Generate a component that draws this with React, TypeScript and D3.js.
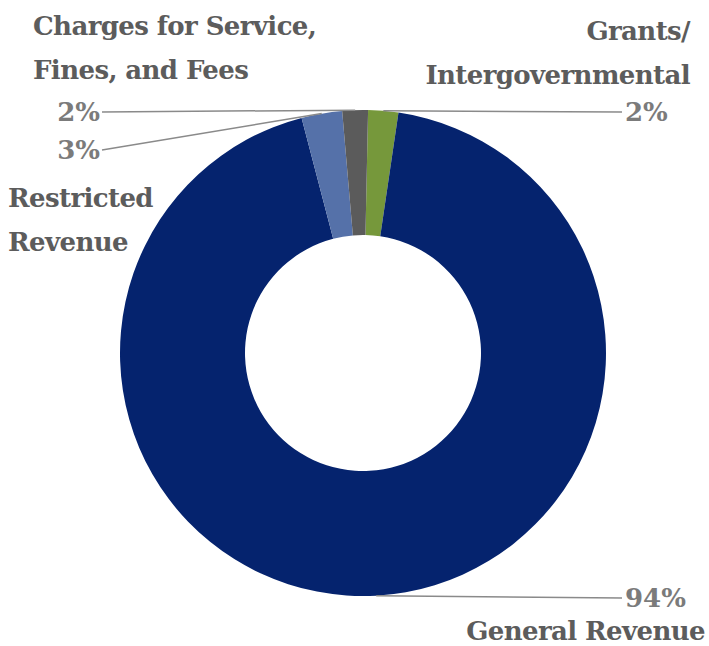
import React from "react";
import * as d3 from "d3";

const categories = ["Grants/ Intergovernmental", "General Revenue", "Restricted Revenue", "Charges for Service, Fines, and Fees"];
const values = [2.0, 93.6, 2.7, 1.7];
const colors = ["#76983b", "#05236e", "#5571a9", "#5b5b5b"];

const titleLines = [
  ["Grants/", "Intergovernmental"],
  ["General Revenue"],
  ["Restricted", "Revenue"],
  ["Charges for Service,", "Fines, and Fees"],
];

const W = 709, H = 646;
const cx = 363, cy = 353, R = 243, r0 = 118;
const startDeg = 1.2;

const titleColor = "#5c5c5c";
const pctColor = "#7b7b7b";
const font = "DejaVu Serif";

export default function App() {
  const pie = d3.pie<number>().sort(null).value((d) => d)
    .startAngle((startDeg * Math.PI) / 180)
    .endAngle((startDeg * Math.PI) / 180 + 2 * Math.PI);
  const arcs = pie(values);
  const arc = d3.arc<d3.PieArcDatum<number>>().innerRadius(r0).outerRadius(R);
  const total = d3.sum(values);

  const pctPos = [
    { x: 625, y: 112, anchor: "start" },
    { x: 625, y: 598, anchor: "start" },
    { x: 100, y: 150, anchor: "end" },
    { x: 100, y: 112, anchor: "end" },
  ];
  const titlePos = [
    { x: 690, y: 40, anchor: "end" },
    { x: 705, y: 640, anchor: "end" },
    { x: 8, y: 207, anchor: "start" },
    { x: 33, y: 35, anchor: "start" },
  ];

  return (
    <svg width={W} height={H} style={{ position: "absolute", left: 0, top: 0, background: "#fff" }}>
      <g transform={`translate(${cx},${cy})`}>
        {arcs.map((a, i) => (
          <path key={i} d={arc(a) || ""} fill={colors[i]} />
        ))}
      </g>
      {arcs.map((a, i) => {
        const mid = (a.startAngle + a.endAngle) / 2;
        const px = cx + R * Math.sin(mid);
        const py = cy - R * Math.cos(mid);
        const p = pctPos[i];
        const lx = p.anchor === "start" ? p.x - 3 : p.x + 2;
        return (
          <g key={i}>
            <line x1={px} y1={py} x2={lx} y2={p.y} stroke="#8a8a8a" strokeWidth={1.5} />
            <text x={p.x} y={p.y} dy="0.35em" textAnchor={p.anchor as any} fill={pctColor}
              style={{ fontFamily: font, fontWeight: 700, fontSize: 26 }}>
              {Math.round((values[i] / total) * 100)}%
            </text>
          </g>
        );
      })}
      {titleLines.map((lines, i) => (
        <text key={i} x={titlePos[i].x} y={titlePos[i].y} textAnchor={titlePos[i].anchor as any}
          fill={titleColor} style={{ fontFamily: font, fontWeight: 700, fontSize: 26, letterSpacing: -0.6 }}>
          {lines.map((l, j) => (
            <tspan key={j} x={titlePos[i].x} dy={j === 0 ? 0 : 44}>{l}</tspan>
          ))}
        </text>
      ))}
    </svg>
  );
}
